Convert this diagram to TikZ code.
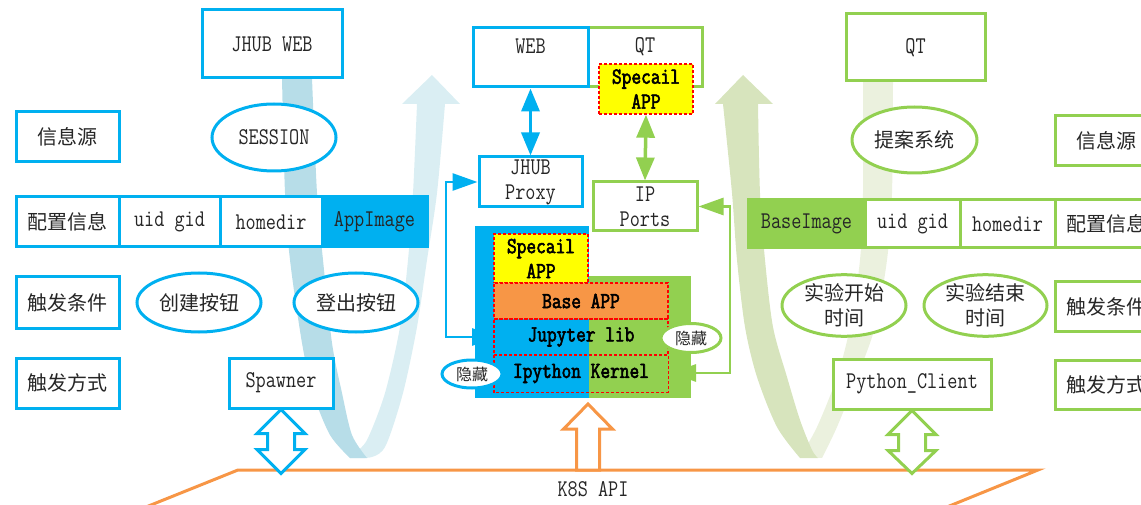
\documentclass[tikz,border=0pt]{standalone}
\usepackage{fontspec}
\setmainfont{Latin Modern Mono}[FakeStretch=0.82]
\newfontfamily\bmono{Latin Modern Mono}[FakeStretch=0.82, FakeBold=2.5]
\newfontfamily\cjk{Noto Sans CJK SC}
\usetikzlibrary{arrows.meta,calc,shapes.geometric}
\definecolor{cblue}{HTML}{00B0F0}
\definecolor{cgreen}{HTML}{92D050}
\definecolor{corange}{HTML}{F79646}
\definecolor{cyellow}{HTML}{FFFF00}
\definecolor{ldark}{HTML}{B7DDE8}
\definecolor{llight}{HTML}{DAEEF3}
\definecolor{gdark}{HTML}{D7E4BD}
\definecolor{glight}{HTML}{EBF1DE}
\begin{document}
\begin{tikzpicture}[x=1pt,y=-1pt,
  every node/.style={text=black!85, font=\fontsize{24}{25}\selectfont, inner sep=0pt, align=center},
  box/.style={rectangle, draw, line width=3pt, fill=white},
  bbox/.style={box, draw=cblue},
  gbox/.style={box, draw=cgreen},
  oval/.style={ellipse, draw, line width=3pt, fill=white},
  zh/.style={font=\cjk\fontsize{20}{25}\selectfont},
  zhs/.style={font=\cjk\fontsize{16}{20}\selectfont},
  bld/.style={font=\bmono\fontsize{23}{25}\selectfont, text=black},
  dashline/.style={draw=red, line width=1.4pt, dash pattern=on 3pt off 2pt},
  layer/.style={rectangle, dashline},
  sarrow/.style={line width=3.5pt, {Triangle[length=23pt,width=18pt]}-{Triangle[length=23pt,width=18pt]}},
  conn/.style={line width=2.8pt, {Triangle[length=25pt,width=17pt]}-{Triangle[length=25pt,width=17pt]}},
  blk/.style={line width=3pt, fill=white, line join=miter}
]
\useasboundingbox (0,0) rectangle (1141,505);
\clip (0,0) rectangle (1141,505);

% ---- ribbons (background) ----
\fill[llight] plot[smooth] coordinates {(350,458) (372,457) (386,445) (403,393) (417,327) (427,260) (437,193) (445,104)}
  -- (460,104) -- (432,75) -- (402,104) --
  plot[smooth] coordinates {(417,104) (413,193) (408,260) (400,327) (385,393) (367,440) (355,452)} -- cycle;
\fill[ldark] plot[smooth] coordinates {(282,78) (285,193) (290,260) (302,343) (313,393) (330,435) (350,458)}
  -- plot[smooth] coordinates {(367,458) (352,435) (342,393) (332,343) (323,260) (317,193) (312,78)} -- cycle;
\fill[glight] plot[smooth] coordinates {(863,81) (863,193) (860,260) (850,327) (837,377) (817,427) (800,457)}
  -- plot[smooth] coordinates {(822,458) (837,427) (857,377) (875,327) (887,260) (892,193) (893,81)} -- cycle;
\fill[gdark] (715,104) -- (743,75) -- (773,104) --
  plot[smooth] coordinates {(758,104) (760,193) (765,260) (773,327) (787,377) (800,420) (812,450) (818,458)}
  -- plot[smooth] coordinates {(800,458) (777,427) (757,377) (745,327) (737,260) (732,193) (723,104)} -- cycle;

% ---- left side ----
\node[bbox, minimum width=140pt, minimum height=68pt] (jweb) at (272,44) {JHUB WEB};
\node[bbox, zh, minimum width=103pt, minimum height=50pt] (lsrc) at (67.5,137) {信息源};
\node[oval, draw=cblue, minimum width=124pt, minimum height=67pt] (session) at (274,137.5) {SESSION};
\node[bbox, zh, minimum width=103pt, minimum height=50pt] (lcfg) at (67.5,222) {配置信息};
\node[bbox, minimum width=101pt, minimum height=50pt] (luid) at (169.5,222) {uid gid};
\node[bbox, minimum width=102pt, minimum height=50pt] (lhome) at (271,222) {homedir};
\node[bbox, fill=cblue, minimum width=105pt, minimum height=50pt] (appimg) at (374.5,222) {AppImage};
\node[bbox, zh, minimum width=103pt, minimum height=51pt] (ltrig) at (67.5,302.5) {触发条件};
\node[oval, draw=cblue, zh, minimum width=124pt, minimum height=59pt] (create) at (199,302.5) {创建按钮};
\node[oval, draw=cblue, zh, minimum width=124pt, minimum height=59pt] (logout) at (356,302.5) {登出按钮};
\node[bbox, zh, minimum width=103pt, minimum height=50pt] (lmode) at (67.5,383) {触发方式};
\node[bbox, minimum width=104pt, minimum height=50pt] (spawner) at (281,383) {Spawner};

% ---- right side ----
\node[gbox, minimum width=139pt, minimum height=67pt] (qtr) at (915.5,47.5) {QT};
\node[oval, draw=cgreen, zh, minimum width=125pt, minimum height=66pt] (prop) at (914.5,140) {提案系统};
\node[gbox, zh, minimum width=103pt, minimum height=50pt] (rsrc) at (1106.5,141) {信息源};
\node[gbox, fill=cgreen, minimum width=117pt, minimum height=48pt] (baseimg) at (806.5,224) {BaseImage};
\node[gbox, minimum width=95pt, minimum height=48pt] (ruid) at (912.5,224) {uid gid};
\node[gbox, minimum width=95pt, minimum height=48pt] (rhome) at (1007.5,224) {homedir};
\node[gbox, zh, minimum width=103pt, minimum height=48pt] (rcfg) at (1106.5,224) {配置信息};
\node[oval, draw=cgreen, zh, minimum width=124pt, minimum height=59pt] (tstart) at (844,305.5) {实验开始\\时间};
\node[oval, draw=cgreen, zh, minimum width=123pt, minimum height=59pt] (tend) at (985.5,305.5) {实验结束\\时间};
\node[gbox, zh, minimum width=103pt, minimum height=49pt] (rtrig) at (1106.5,306.5) {触发条件};
\node[gbox, minimum width=158pt, minimum height=50pt] (pyc) at (912,384) {Python\_Client};
\node[gbox, zh, minimum width=103pt, minimum height=49pt] (rmode) at (1106.5,384.5) {触发方式};

% ---- center ----
\node[gbox, minimum width=114pt, minimum height=59pt] (qt) at (645,57.5) {};
\node at ($(qt.north)+(0,20)$) (qtlbl) {QT};
\node[bbox, minimum width=115pt, minimum height=59pt] (web) at (530.5,57.5) {};
\node at ($(web.north)+(0,20)$) (weblbl) {WEB};
\node[layer, fill=cyellow, bld, minimum width=94pt, minimum height=50pt] (spec1) at (646,89) {Specail\\APP};
\node[bbox, minimum width=103pt, minimum height=50pt] (proxy) at (530.5,182) {JHUB\\Proxy};
\node[gbox, minimum width=104pt, minimum height=49pt] (ipports) at (645,206.5) {IP\\Ports};

% hidden-ended connectors (drawn before the stack)
\coordinate (jupl) at (497,337);
\coordinate (ipyr) at (671,373);
\draw[conn, cblue] (jupl) -- ++(-51,0) |- (proxy.west);
\draw[conn, cgreen] (ipyr) -- ++(59,0) |- (ipports.east);

% stack
\node[fill=cblue, minimum width=114pt, minimum height=172pt] (stackb) at (532,312) {};
\node[fill=cgreen, minimum width=102pt, minimum height=122pt] (stackg) at (640,337) {};
\node[layer, fill=cyellow, bld, minimum width=94pt, minimum height=49pt] (spec2) at (541,258.5) {Specail\\APP};
\node[layer, fill=corange, bld, minimum width=174pt, minimum height=36pt] (base) at (581,301) {Base APP};
\node[layer, bld, minimum width=174pt, minimum height=36pt] (jup) at (581,337) {Jupyter lib};
\node[bld, minimum width=174pt, minimum height=37pt] (ipy) at (581,373.5) {Ipython Kernel};
\draw[dashline] (ipy.north west) |- (ipy.south east) -- (ipy.north east);
\node[oval, draw=cgreen, zhs, minimum width=60pt, minimum height=29pt] (hide1) at (691,338) {隐藏};
\node[oval, draw=cblue, zhs, minimum width=60pt, minimum height=28pt] (hide2) at (472,374) {隐藏};

\draw[sarrow, cblue] (web.south) -- (proxy.north);
\draw[sarrow, cgreen] (spec1.south) -- (ipports.north);

% ---- K8S API ----
\coordinate (k8sl) at (141,509);
\coordinate (k8stl) at (238,470);
\coordinate (k8str) at (1038,470);
\coordinate (k8sr) at (942,509);
\draw[corange, line width=3pt, line join=miter] (k8sl) -- (k8stl) -- (k8str) -- (k8sr);
\node (k8s) at (593,489) {K8S API};

% block arrows
\draw[blk, draw=cblue, shift={(spawner.south)}]
  (0,0) -- (24,24) -- (13.5,24) -- (13.5,40) -- (24,40) -- (0,64) -- (-24,40) -- (-13.5,40) -- (-13.5,24) -- (-24,24) -- cycle;
\draw[blk, draw=cgreen, shift={(pyc.south)}]
  (0,0) -- (24,24) -- (13.5,24) -- (13.5,40) -- (24,40) -- (0,63) -- (-24,40) -- (-13.5,40) -- (-13.5,24) -- (-24,24) -- cycle;
\coordinate (uptip) at (588,404);
\draw[blk, draw=corange, shift={(uptip)}]
  (0,0) -- (24.5,25) -- (11.5,25) -- (11.5,66) -- (-11.5,66) -- (-11.5,25) -- (-24.5,25) -- cycle;
\end{tikzpicture}
\end{document}
